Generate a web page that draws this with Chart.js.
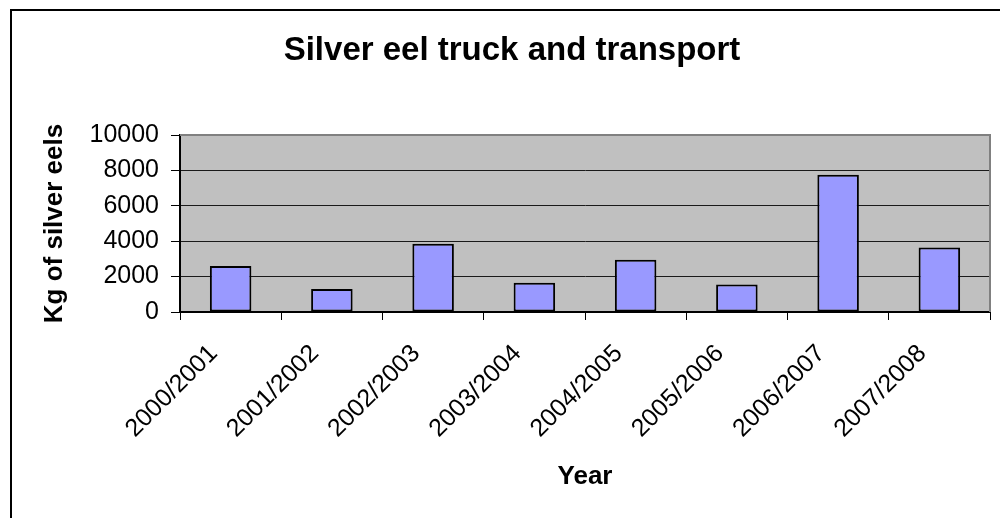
<!DOCTYPE html>
<html>
<head>
<meta charset="utf-8">
<script src="https://cdn.jsdelivr.net/npm/chart.js@4.4.1/dist/chart.umd.min.js"></script>
<style>
  html, body { margin: 0; padding: 0; background: #fff; }
  #wrap { position: relative; width: 1000px; height: 518px; }
  canvas { display: block; }
</style>
</head>
<body>
<div id="wrap"><canvas id="chart" width="1000" height="518"></canvas></div>
<script>
// Seasons and kilograms of silver eels moved by truck
const seasons = ['2000/2001', '2001/2002', '2002/2003', '2003/2004',
                 '2004/2005', '2005/2006', '2006/2007', '2007/2008'];
const kgSilverEels = [2600, 1300, 3850, 1650, 2950, 1550, 7750, 3650];
const yTicks = [0, 2000, 4000, 6000, 8000, 10000];

const FONT = '"Liberation Sans", Arial, sans-serif';

// Grey plot background, grey frame on the top/right, and the outer chart border
const framePlugin = {
  id: 'frame',
  beforeDraw(chart) {
    const { ctx, chartArea: a } = chart;
    ctx.save();
    ctx.fillStyle = '#C0C0C0';
    ctx.fillRect(a.left, a.top, a.right - a.left, a.bottom - a.top);
    ctx.restore();
  },
  afterDraw(chart) {
    const { ctx, chartArea: a } = chart;
    ctx.save();
    ctx.strokeStyle = '#808080';
    ctx.lineWidth = 2;
    ctx.beginPath();
    ctx.moveTo(a.left, a.top);
    ctx.lineTo(a.right, a.top);
    ctx.lineTo(a.right, a.bottom);
    ctx.stroke();
    // outer border of the chart object
    ctx.strokeStyle = '#000';
    ctx.lineWidth = 2;
    ctx.beginPath();
    ctx.moveTo(11, 520);
    ctx.lineTo(11, 10);
    ctx.lineTo(1002, 10);
    ctx.stroke();
    ctx.restore();
  }
};

new Chart(document.getElementById('chart'), {
  type: 'bar',
  data: {
    labels: seasons,
    datasets: [{
      data: kgSilverEels,
      backgroundColor: '#9999FF',
      borderColor: '#000000',
      borderWidth: 2,
      borderSkipped: false,
      categoryPercentage: 1,
      barPercentage: 0.41
    }]
  },
  options: {
    responsive: false,
    animation: false,
    layout: { padding: { left: 34, right: 10, top: 0, bottom: 0 } },
    plugins: {
      legend: { display: false },
      tooltip: { enabled: false },
      title: {
        display: true,
        text: 'Silver eel truck and transport',
        color: '#000',
        font: { family: FONT, size: 33, weight: 'bold', lineHeight: 1.2 },
        padding: { top: 31, bottom: 64.4 }
      }
    },
    scales: {
      x: {
        grid: {
          offset: true,
          drawOnChartArea: false,
          color: '#000',
          tickLength: 8,
          lineWidth: 1
        },
        border: { color: '#000', width: 2 },
        ticks: {
          color: '#000',
          font: { family: FONT, size: 25 },
          maxRotation: 45,
          minRotation: 45,
          padding: 19,
          labelOffset: -17,
          autoSkip: false
        },
        title: {
          display: true,
          text: 'Year',
          color: '#000',
          font: { family: FONT, size: 26, weight: 'bold', lineHeight: 1.2 },
          padding: { top: 0, bottom: 26 }
        },
        afterFit(scale) { scale.height = 206; }
      },
      y: {
        min: 0,
        max: 10000,
        afterBuildTicks(scale) { scale.ticks = yTicks.map(v => ({ value: v })); },
        grid: {
          color: ctx => (ctx.tick && ctx.tick.value === 10000) ? 'rgba(0,0,0,0)' : '#1a1a1a',
          tickColor: '#000',
          tickLength: 9,
          lineWidth: 1
        },
        border: { color: '#000', width: 2 },
        ticks: {
          color: '#000',
          font: { family: FONT, size: 25 },
          padding: 12,
          callback: v => String(v)
        },
        title: {
          display: true,
          text: 'Kg of silver eels',
          color: '#000',
          font: { family: FONT, size: 26, weight: 'bold', lineHeight: 1.2 },
          padding: { top: 5, bottom: 0 }
        },
        afterFit(scale) { scale.width = 146; }
      }
    }
  },
  plugins: [framePlugin]
});
</script>
</body>
</html>
